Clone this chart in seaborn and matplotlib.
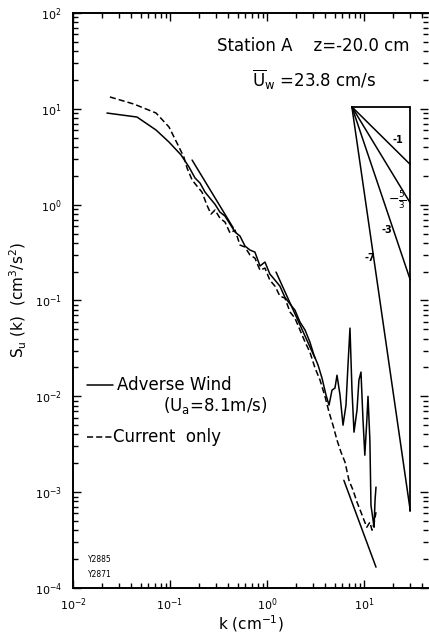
import numpy as np
import pandas as pd
import matplotlib
matplotlib.use("Agg")
import matplotlib.pyplot as plt
from matplotlib.ticker import NullFormatter
import seaborn as sns

# Wavenumber spectrum S_u(k), adverse wind case (Ua = 8.1 m/s)
k_wind = [0.0224, 0.0457, 0.0718, 0.0977, 0.130, 0.157, 0.181, 0.204, 0.230, 0.258,
          0.291, 0.327, 0.369, 0.416, 0.468, 0.527, 0.593, 0.668, 0.751, 0.847,
          0.953, 1.07, 1.21, 1.36, 1.53, 1.73, 1.94, 2.19, 2.47, 2.77,
          3.05, 3.36, 3.69, 4.06, 4.36, 4.68, 5.02, 5.27, 5.66, 6.08,
          6.52, 6.84, 7.17, 7.52, 7.89, 8.47, 8.87, 9.31, 9.77, 10.2,
          10.7, 11.0, 11.5, 11.8, 12.4, 12.7, 13.0, 13.3]
S_wind = [9.04, 8.21, 6.01, 4.50, 3.30, 2.47, 1.90, 1.68, 1.35, 1.17,
          1.01, 0.837, 0.760, 0.627, 0.518, 0.470, 0.370, 0.336, 0.320, 0.229,
          0.252, 0.189, 0.163, 0.141, 0.108, 0.0917, 0.0794, 0.0595, 0.0491, 0.0368,
          0.0269, 0.0212, 0.0155, 0.0103, 0.00809, 0.0116, 0.0122, 0.0166, 0.0103, 0.00500,
          0.00809, 0.0212, 0.0515, 0.0116, 0.00423, 0.00718, 0.0148, 0.0179, 0.00565, 0.00243,
          0.00565, 0.0100, 0.00349, 0.000731, 0.000511, 0.000431, 0.000824, 0.00113]

# Wavenumber spectrum S_u(k), current only
k_curr = [0.0240, 0.0426, 0.0718, 0.0977, 0.118, 0.139, 0.150, 0.169, 0.190, 0.214,
          0.240, 0.265, 0.291, 0.327, 0.369, 0.416, 0.468, 0.527, 0.593, 0.668,
          0.751, 0.847, 0.953, 1.07, 1.21, 1.36, 1.53, 1.73, 1.94, 2.19,
          2.47, 2.77, 3.13, 3.52, 3.96, 4.36, 4.79, 5.27, 5.79, 6.37,
          7.00, 7.71, 8.47, 9.31, 10.0, 10.7, 11.5, 12.1, 12.7, 13.3]
S_curr = [13.3, 11.2, 9.04, 6.46, 4.40, 3.14, 2.41, 1.81, 1.56, 1.35,
          0.99, 0.798, 0.879, 0.724, 0.658, 0.506, 0.543, 0.379, 0.361, 0.298,
          0.277, 0.207, 0.218, 0.163, 0.141, 0.111, 0.106, 0.0757, 0.0655, 0.0491,
          0.0368, 0.0289, 0.0197, 0.0148, 0.0100, 0.00684, 0.00500, 0.00349, 0.00262, 0.00206,
          0.00133, 0.00105, 0.000787, 0.000618, 0.000511, 0.000431, 0.000486, 0.000401, 0.000474, 0.000618]

# Straight power-law fits drawn over the spectra
k_fit_a = [0.169, 0.45]
S_fit_a = [2.92, 0.57]
k_fit_b = [1.24, 3.13]
S_fit_b = [0.198, 0.025]
k_fit_c = [6.2, 13.3]
S_fit_c = [1.33e-3, 1.65e-4]

# Reference slope fan
slopes = [-1, -5 / 3, -3, -7]
slope_labels = ["-1", r"$-\frac{5}{3}$", "-3", "-7"]
k_ref = [7.5, 30.0]
S_ref0 = 10.5

sns.set_style("ticks")
plt.rcParams["font.family"] = ["DejaVu Sans"]
plt.rcParams["mathtext.fontset"] = "dejavusans"
for key in ["text.color", "axes.labelcolor", "xtick.color", "ytick.color", "axes.edgecolor"]:
    plt.rcParams[key] = "black"

fig = plt.figure(figsize=(4.29, 6.41), dpi=100)
ax = fig.add_axes([73 / 429, 1 - 588 / 641, 355 / 429, 575 / 641])
ax.set_xscale("log")
ax.set_yscale("log")

df = pd.concat([
    pd.DataFrame({"k": k_wind, "S": S_wind, "case": "Adverse Wind"}),
    pd.DataFrame({"k": k_curr, "S": S_curr, "case": "Current only"}),
], ignore_index=True)
sns.lineplot(data=df, x="k", y="S", style="case",
             dashes={"Adverse Wind": "", "Current only": (4, 2)},
             color="black", lw=1.1, estimator=None, sort=False,
             legend=False, ax=ax)

for kk, ss in [(k_fit_a, S_fit_a), (k_fit_b, S_fit_b), (k_fit_c, S_fit_c)]:
    ax.plot(kk, ss, color="black", lw=1.1)

# slope fan: horizontal top, right vertical and one line per slope
k0, k1 = k_ref
ends = [S_ref0 * (k1 / k0) ** s for s in slopes]
ax.plot([k0, k1], [S_ref0, S_ref0], color="black", lw=1.3)
ax.plot([k1, k1], [S_ref0, min(ends)], color="black", lw=1.3)
for e in ends:
    ax.plot([k0, k1], [S_ref0, e], color="black", lw=1.1)
label_pos = [(22.4, 4.7), (21.9, 1.12), (17.3, 0.54), (11.5, 0.28)]
label_size = [7, 9, 7, 7]
for (kx, sy), lab, fs in zip(label_pos, slope_labels, label_size):
    ax.text(kx, sy, lab, fontsize=fs, fontweight="bold", ha="center", va="center")

ax.set_xlim(1e-2, 45.7)
ax.set_ylim(1e-4, 1e2)
ax.xaxis.set_minor_formatter(NullFormatter())
ax.yaxis.set_minor_formatter(NullFormatter())
ax.xaxis.get_offset_text().set_visible(False)
ax.yaxis.get_offset_text().set_visible(False)

for side in ["left", "bottom", "top"]:
    ax.spines[side].set_linewidth(1.4)
ax.spines["right"].set_visible(False)
ax.tick_params(which="both", direction="in", top=True, right=True, width=1.0, colors="black")
ax.tick_params(which="major", length=6, labelsize=8)
ax.tick_params(axis="y", which="major", pad=8)
ax.tick_params(axis="x", which="major", pad=6)
ax.tick_params(which="minor", length=3.5)

ax.set_ylabel(r"S$_\mathrm{u}$ (k)  (cm$^3$/s$^2$)", fontsize=11, labelpad=4)
ax.set_xlabel(r"k (cm$^{-1}$)", fontsize=11, labelpad=0)

ax.text(0.676, 0.943, "Station A    z=-20.0 cm", transform=ax.transAxes,
        fontsize=12, ha="center", va="center")
ax.text(0.679, 0.883, r"$\overline{\mathrm{U}}_\mathrm{w}$ =23.8 cm/s",
        transform=ax.transAxes, fontsize=12, ha="center", va="center")

# legend drawn as line samples with captions
ax.plot([0.039, 0.113], [0.353, 0.353], transform=ax.transAxes, color="black", lw=1.1)
ax.text(0.124, 0.353, "Adverse Wind", transform=ax.transAxes, fontsize=12, va="center")
ax.text(0.254, 0.318, r"(U$_\mathrm{a}$=8.1m/s)", transform=ax.transAxes, fontsize=12, va="center")
ax.plot([0.039, 0.110], [0.263, 0.263], transform=ax.transAxes, color="black",
        lw=1.1, dashes=(4, 2))
ax.text(0.113, 0.263, "Current  only", transform=ax.transAxes, fontsize=12, va="center")

ax.text(0.042, 0.049, "Y2885", transform=ax.transAxes, fontsize=5.5, va="center")
ax.text(0.042, 0.023, "Y2871", transform=ax.transAxes, fontsize=5.5, va="center")

fig.savefig("out.png", dpi=100)
